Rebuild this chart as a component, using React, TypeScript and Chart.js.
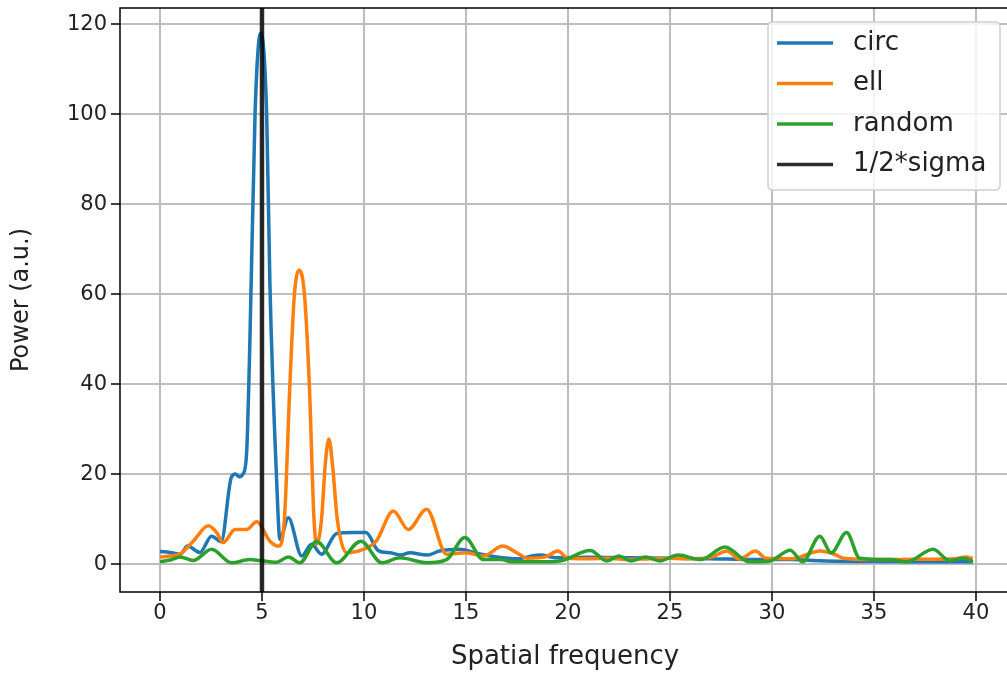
import React, { useEffect, useRef } from "react";
import { Chart, registerables } from "chart.js";

Chart.register(...registerables);

// ---- data ----
const circX = [0, 0.5, 1.0, 1.35, 1.96, 2.53, 3.0, 3.5, 3.7, 3.9, 4.07, 4.25, 4.41, 4.66, 4.93, 5.23, 5.39, 5.72, 5.88, 6.29, 6.95, 7.43, 7.92, 8.66, 9.5, 10.1, 10.7, 11.3, 11.8, 12.25, 13.1, 13.7, 14.7, 15.5, 16.5, 17.5, 18.6, 19.5, 21, 23, 25, 27, 29, 31, 32, 34, 36, 38, 39.85];
const circY = [2.8, 2.6, 2.2, 4.0, 2.6, 6.2, 5.0, 19.3, 20.0, 19.4, 20.0, 25, 50, 100, 118, 100, 62, 18.5, 5.5, 10.3, 1.8, 4.4, 2.2, 6.8, 7.0, 7.0, 3.0, 2.5, 2.0, 2.5, 2.0, 2.9, 3.3, 2.4, 1.6, 1.2, 2.0, 1.4, 1.5, 1.4, 1.3, 1.2, 1.0, 1.0, 0.8, 0.6, 0.6, 0.5, 0.5];

const ellX = [0, 0.5, 1.0, 1.63, 2.37, 2.78, 3.1, 3.68, 4.25, 4.74, 5.39, 5.82, 6.1, 6.37, 6.59, 6.83, 7.08, 7.32, 7.55, 7.68, 7.92, 8.1, 8.28, 8.46, 8.69, 9.15, 9.97, 10.6, 11.44, 12.17, 13.07, 14.05, 15.03, 15.85, 16.8, 17.5, 18.0, 18.9, 19.5, 20.0, 21, 22, 23, 24, 25, 26, 27, 27.8, 28.4, 29.2, 29.7, 31, 32.35, 33, 33.5, 35, 37, 39, 39.5, 39.85];
const ellY = [1.6, 1.8, 2.3, 5.1, 8.5, 7.0, 4.8, 7.7, 7.7, 9.4, 5.1, 4.0, 10, 40, 60, 65.3, 60, 40, 10, 4.4, 10, 22, 27.8, 22, 10, 2.5, 3.3, 5.1, 11.8, 7.7, 12.2, 2.2, 2.5, 1.8, 4.0, 2.5, 1.3, 1.6, 2.9, 1.3, 1.2, 1.3, 1.0, 1.2, 1.3, 1.2, 1.5, 2.9, 1.1, 2.9, 1.3, 1.2, 2.9, 2.3, 1.3, 1.0, 1.1, 1.2, 1.6, 1.2];

const randX = [0, 0.5, 0.98, 1.63, 2.53, 3.5, 4.4, 4.9, 5.7, 6.3, 6.86, 7.68, 8.66, 9.85, 10.87, 11.76, 13.07, 14.05, 14.95, 15.85, 16.7, 17.3, 18.5, 19.6, 21.1, 21.9, 22.5, 23.1, 23.8, 24.5, 25.4, 26.5, 27.7, 28.9, 29.9, 30.9, 31.5, 32.35, 32.9, 33.66, 34.3, 35.8, 36.6, 37.9, 38.7, 39.4, 39.85];
const randY = [0.5, 0.9, 1.6, 0.8, 3.3, 0.3, 1.0, 0.8, 0.4, 1.6, 0.3, 5.0, 0.3, 5.1, 0.3, 1.4, 0.3, 1.0, 5.9, 1.0, 1.0, 0.5, 0.5, 0.7, 3.0, 0.7, 1.8, 0.7, 1.6, 0.7, 2.0, 1.0, 3.8, 0.5, 0.7, 3.1, 0.5, 6.2, 2.5, 7.0, 1.3, 1.0, 0.5, 3.3, 0.8, 1.3, 0.5];

const sigmaX = 5;
const seriesLabels = ["circ", "ell", "random", "1/2*sigma"];
const xTitle = "Spatial frequency";
const yTitle = "Power (a.u.)";

const FONT = "'DejaVu Sans', sans-serif";
const TICK_FS = 21;
const XTITLE_FS = 26;
const YTITLE_FS = 24;
const LEGEND_FS = 26;
const TEXT = "#222";

const toPts = (xs: number[], ys: number[]) => xs.map((x, i) => ({ x, y: ys[i] }));

const spinePlugin = {
  id: "spines",
  afterDatasetsDraw(chart: any) {
    const { ctx, chartArea: a } = chart;
    ctx.save();
    ctx.strokeStyle = "#000";
    ctx.lineWidth = 1.5;
    ctx.strokeRect(a.left, a.top, a.right - a.left, a.bottom - a.top);
    ctx.restore();
  },
};

const legendPlugin = {
  id: "mplLegend",
  afterDraw(chart: any) {
    const { ctx, chartArea: a } = chart;
    const w = 232, h = 168;
    const x0 = a.right - 10 - w;
    const y0 = a.top + 14;
    ctx.save();
    ctx.beginPath();
    const r = 5;
    ctx.moveTo(x0 + r, y0);
    ctx.lineTo(x0 + w - r, y0);
    ctx.quadraticCurveTo(x0 + w, y0, x0 + w, y0 + r);
    ctx.lineTo(x0 + w, y0 + h - r);
    ctx.quadraticCurveTo(x0 + w, y0 + h, x0 + w - r, y0 + h);
    ctx.lineTo(x0 + r, y0 + h);
    ctx.quadraticCurveTo(x0, y0 + h, x0, y0 + h - r);
    ctx.lineTo(x0, y0 + r);
    ctx.quadraticCurveTo(x0, y0, x0 + r, y0);
    ctx.closePath();
    ctx.fillStyle = "rgba(255,255,255,0.8)";
    ctx.fill();
    ctx.strokeStyle = "#d0d0d0";
    ctx.lineWidth = 1.5;
    ctx.stroke();
    chart.data.datasets.forEach((ds: any, i: number) => {
      const cy = y0 + 21 + i * 40.5;
      ctx.beginPath();
      ctx.strokeStyle = ds.borderColor;
      ctx.lineWidth = 3.5;
      ctx.moveTo(x0 + 9, cy);
      ctx.lineTo(x0 + 65, cy);
      ctx.stroke();
      ctx.fillStyle = TEXT;
      ctx.font = `${LEGEND_FS}px ${FONT}`;
      ctx.textBaseline = "middle";
      ctx.textAlign = "left";
      ctx.fillText(ds.label, x0 + 85, cy);
    });
    ctx.restore();
  },
};

export default function App() {
  const ref = useRef<HTMLCanvasElement>(null);
  useEffect(() => {
    if (!ref.current) return;
    const common = { pointRadius: 0, borderWidth: 3.5, fill: false, cubicInterpolationMode: "monotone" as const };
    const chart = new Chart(ref.current, {
      type: "line",
      data: {
        datasets: [
          { label: seriesLabels[0], data: toPts(circX, circY), borderColor: "#1f77b4", order: 4, ...common },
          { label: seriesLabels[1], data: toPts(ellX, ellY), borderColor: "#ff7f0e", order: 3, ...common },
          { label: seriesLabels[2], data: toPts(randX, randY), borderColor: "#2ca02c", order: 2, ...common },
          {
            label: seriesLabels[3],
            data: [{ x: sigmaX, y: -50 }, { x: sigmaX, y: 300 }],
            borderColor: "rgba(0,0,0,0.82)",
            borderWidth: 4.5,
            pointRadius: 0,
            order: 1,
            clip: 0,
          } as any,
        ],
      },
      options: {
        animation: false,
        responsive: false,
        maintainAspectRatio: false,
        layout: { padding: { top: 8, left: 0, right: 0, bottom: 0 } },
        plugins: { legend: { display: false }, tooltip: { enabled: false } },
        scales: {
          x: {
            type: "linear",
            min: -1.96,
            max: 41.67,
            ticks: { stepSize: 5, includeBounds: false, color: TEXT, font: { family: FONT, size: TICK_FS }, padding: 0, maxRotation: 0 },
            grid: { color: "#bdbdbd", lineWidth: 2, tickLength: 9, tickColor: "#000", tickWidth: 1.5 },
            border: { display: false },
            title: { display: true, text: xTitle, color: TEXT, font: { family: FONT, size: XTITLE_FS }, padding: { top: 0, bottom: 1 } },
            afterFit: (s: any) => { s.height = 82; s.paddingLeft = 0; s.paddingRight = 0; },
          },
          y: {
            type: "linear",
            min: -6.2,
            max: 123.6,
            ticks: { stepSize: 20, includeBounds: false, color: TEXT, font: { family: FONT, size: TICK_FS }, padding: 4 },
            grid: { color: "#bdbdbd", lineWidth: 2, tickLength: 9, tickColor: "#000", tickWidth: 1.5 },
            border: { display: false },
            title: { display: true, text: yTitle, color: TEXT, font: { family: FONT, size: YTITLE_FS }, padding: { top: 7, bottom: 0 } },
            afterFit: (s: any) => { s.width = 120; s.paddingTop = 0; s.paddingBottom = 0; },
          },
        },
      },
      plugins: [spinePlugin, legendPlugin],
    });
    return () => chart.destroy();
  }, []);
  return (
    <div style={{ position: "absolute", left: 0, top: 0, width: 1007, height: 674, overflow: "hidden", background: "#fff" }}>
      <canvas ref={ref} width={1010} height={674} style={{ display: "block", width: 1010, height: 674 }} />
    </div>
  );
}
